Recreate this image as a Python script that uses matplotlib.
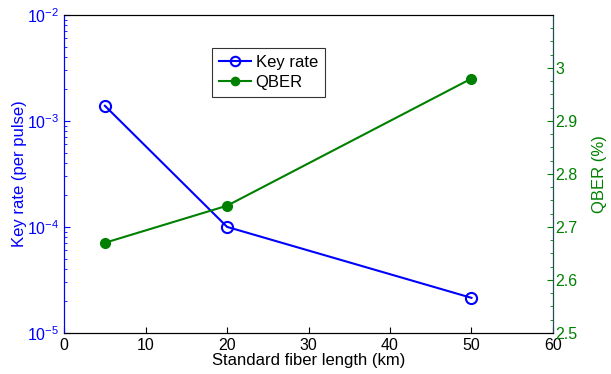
import matplotlib
matplotlib.use("Agg")
import matplotlib.pyplot as plt
from matplotlib.ticker import LogLocator, FixedLocator, NullFormatter

plt.rcParams['font.family'] = ['Liberation Sans', 'DejaVu Sans']
plt.rcParams['mathtext.fontset'] = 'custom'
plt.rcParams['mathtext.rm'] = 'Liberation Sans'

length_km = [5, 20, 50]
key_rate = [1.39e-3, 1.0e-4, 2.14e-5]
qber = [2.67, 2.74, 2.98]
x_ticks = [0, 10, 20, 30, 40, 50, 60]
qber_ticks = [2.5, 2.6, 2.7, 2.8, 2.9, 3.0]
qber_labels = ['2.5', '2.6', '2.7', '2.8', '2.9', '3']

blue = (0, 0, 1)
green = (0, 0.5, 0)

fig = plt.figure(figsize=(6.11, 3.74), dpi=100)
ax = fig.add_axes([0.105, 0.11, 0.80, 0.85])
ax2 = ax.twinx()

l1, = ax.plot(length_km, key_rate, color=blue, marker='o', markerfacecolor='none',
              markeredgecolor=blue, markersize=8, markeredgewidth=1.5, linewidth=1.5, label='Key rate')
ax.set_yscale('log')
ax.set_ylim(1e-5, 1e-2)
ax.set_xlim(0, 60)
ax.set_xticks(x_ticks)
ax.set_xlabel('Standard fiber length (km)', fontsize=12, labelpad=0)
ax.set_ylabel('Key rate (per pulse)', fontsize=12, color=blue, labelpad=0)
ax.tick_params(axis='y', colors=blue, which='both', direction='in', labelsize=11.5)
ax.tick_params(axis='x', direction='in', labelsize=11.5, colors='black', pad=4)
ax.tick_params(which='major', length=4)
ax.tick_params(which='minor', length=2)
ax.yaxis.set_minor_locator(LogLocator(base=10, subs=range(2, 10)))
ax.yaxis.set_minor_formatter(NullFormatter())

l2, = ax2.plot(length_km, qber, color=green, marker='o', markerfacecolor=green,
               markeredgecolor=green, markersize=7, linewidth=1.5, label='QBER')
ax2.set_ylim(2.5, 3.1)
ax2.set_yticks(qber_ticks)
ax2.set_yticklabels(qber_labels)
ax2.yaxis.set_minor_locator(FixedLocator([2.5 + 0.025 * i for i in range(25)]))
ax2.tick_params(axis='y', colors=green, which='both', direction='in', labelsize=11.5, pad=2)
ax2.tick_params(which='major', length=4)
ax2.tick_params(which='minor', length=2)
ax2.set_ylabel('QBER (%)', fontsize=12, color=green, labelpad=10)

ax.spines['left'].set_color(blue)
ax2.spines['left'].set_color(blue)
ax2.spines['right'].set_color('#1f4f5f')

leg = ax.legend([l1, l2], ['Key rate', 'QBER'], loc='upper left', bbox_to_anchor=(0.303, 0.895),
                borderaxespad=0, fontsize=12, frameon=True, fancybox=False, edgecolor='black',
                borderpad=0.4, handlelength=1.9, handletextpad=0.3, labelspacing=0.3,
                markerscale=0.85)
leg.get_frame().set_linewidth(0.8)

fig.savefig('out.png', dpi=100)
